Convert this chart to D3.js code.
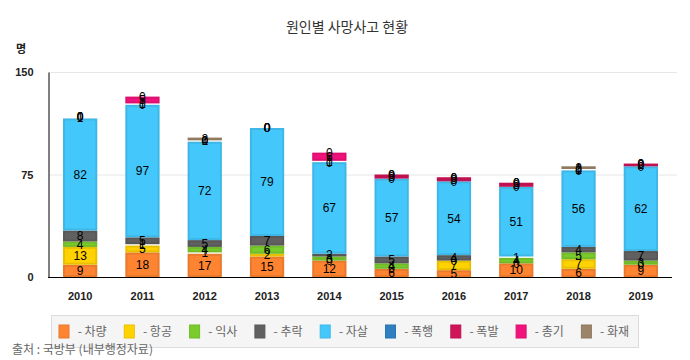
<!DOCTYPE html>
<html>
<head>
<meta charset="utf-8">
<script src="https://cdn.jsdelivr.net/npm/d3@7"></script>
<style>
  html, body { margin: 0; padding: 0; background: #fff; }
  svg { display: block; }
  text { font-family: "Liberation Sans", Arial, "Noto Sans CJK KR", sans-serif; }
  .kr { font-family: "Noto Sans CJK KR", "Noto Sans", sans-serif; }
</style>
</head>
<body>
<svg id="chart" width="690" height="360"></svg>
<script>
const years = ["2010","2011","2012","2013","2014","2015","2016","2017","2018","2019"];
const seriesNames = ["차량","항공","익사","추락","자살","폭행","폭발","총기","화재"];
const colors = ["#fe8431","#ffd200","#7acc2c","#606060","#44c8fc","#2f7fc1","#d0145a","#f2127c","#9c8468"];
const vCar     = [9, 18, 17, 15, 12, 6, 5, 10, 6, 9];
const vAir     = [13, 5, 1, 2, 0, 0, 7, 0, 7, 0];
const vDrown   = [4, 1, 4, 6, 3, 4, 0, 4, 5, 3];
const vFall    = [8, 5, 5, 7, 2, 5, 4, 1, 4, 7];
const vSuicide = [82, 97, 72, 79, 67, 57, 54, 51, 56, 62];
const vAssault = [1, 0, 1, 0, 0, 0, 0, 0, 0, 0];
const vExplode = [0, 1, 0, 0, 1, 3, 3, 3, 1, 2];
const vGun     = [0, 5, 0, 0, 6, 0, 0, 0, 0, 0];
const vFire    = [0, 0, 2, 0, 0, 0, 0, 0, 2, 0];
const yTicks = [0, 75, 150];
const titleText = "원인별 사망사고 현황";
const unitText = "명";
const sourceText = "출처 : 국방부 (내부행정자료)";

const seriesValues = [vCar, vAir, vDrown, vFall, vSuicide, vAssault, vExplode, vGun, vFire];
const rows = years.map((y, i) => {
  const r = { year: y };
  seriesNames.forEach((s, k) => r[s] = seriesValues[k][i]);
  return r;
});

const svg = d3.select("#chart");
const x = d3.scaleBand().domain(years).range([49, 672]).paddingInner(0.45).paddingOuter(0.225);
const y = d3.scaleLinear().domain([0, 150]).range([277, 72]);

// title
svg.append("text").attr("class", "kr").attr("x", 347).attr("y", 32)
  .attr("text-anchor", "middle").attr("font-size", 14).attr("fill", "#333").text(titleText);

// unit
svg.append("text").attr("class", "kr").attr("x", 21).attr("y", 53)
  .attr("text-anchor", "middle").attr("font-size", 11).attr("font-weight", "bold").attr("fill", "#222").text(unitText);

// gridlines
svg.append("g").selectAll("line").data(yTicks.filter(t => t > 0)).join("line")
  .attr("x1", 49).attr("x2", 677).attr("y1", d => y(d) + 0.5).attr("y2", d => y(d) + 0.5)
  .attr("stroke", "#e6e6e6").attr("stroke-width", 1);

// y axis
const yAxis = svg.append("g").attr("transform", "translate(48.5,0)")
  .call(d3.axisLeft(y).tickValues(yTicks).tickSize(0).tickPadding(15));
yAxis.select(".domain").attr("stroke", "#000");
yAxis.selectAll("text").attr("font-size", 11).attr("font-weight", "bold").attr("fill", "#222");

// x axis
const xAxis = svg.append("g").attr("transform", "translate(0,277.5)")
  .call(d3.axisBottom(x).tickSize(0).tickPadding(15));
xAxis.select(".domain").attr("stroke", "#000").attr("d", "M48,0H672");
xAxis.selectAll("text").attr("font-size", 11).attr("font-weight", "bold").attr("fill", "#222");

// stacks
const stack = d3.stack().keys(seriesNames);
const stacked = stack(rows);

const gBars = svg.append("g");
stacked.forEach((layer, k) => {
  const c = colors[k];
  gBars.append("g").selectAll("rect").data(layer.filter(d => d[1] - d[0] > 0)).join("rect")
    .attr("x", d => x(d.data.year) + 1)
    .attr("width", x.bandwidth() - 2)
    .attr("y", d => y(d[1]) + 1)
    .attr("height", d => Math.max(0, y(d[0]) - y(d[1]) - 2))
    .attr("fill", c)
    .attr("stroke", d3.color(c).darker(0.25))
    .attr("stroke-width", 2);
});

// labels
const gLab = svg.append("g");
stacked.forEach((layer, k) => {
  gLab.append("g").selectAll("text").data(layer).join("text")
    .attr("x", d => x(d.data.year) + x.bandwidth() / 2)
    .attr("y", d => (y(d[0]) + y(d[1])) / 2)
    .attr("dy", "0.36em")
    .attr("text-anchor", "middle")
    .attr("font-size", 12)
    .attr("fill", "#000")
    .text(d => d[1] - d[0]);
});

// legend
const lg = svg.append("g");
lg.append("rect").attr("x", 51.5).attr("y", 315.5).attr("width", 587).attr("height", 32)
  .attr("fill", "#f5f5f5").attr("stroke", "#dcdcdc");
const item = lg.selectAll("g.item").data(seriesNames).join("g").attr("class", "item")
  .attr("transform", (d, i) => `translate(${59 + i * 65.3},325)`);
item.append("rect").attr("width", 10).attr("height", 13)
  .attr("fill", (d, i) => colors[i]).attr("stroke", (d, i) => d3.color(colors[i]).darker(0.25));
item.append("text").attr("class", "kr").attr("x", 16).attr("y", 11)
  .attr("font-size", 12).attr("fill", "#666").text(d => " - " + d).attr("xml:space", "preserve");

// source
svg.append("text").attr("class", "kr").attr("x", 12).attr("y", 354)
  .attr("font-size", 12).attr("fill", "#666").text(sourceText);
</script>
</body>
</html>
